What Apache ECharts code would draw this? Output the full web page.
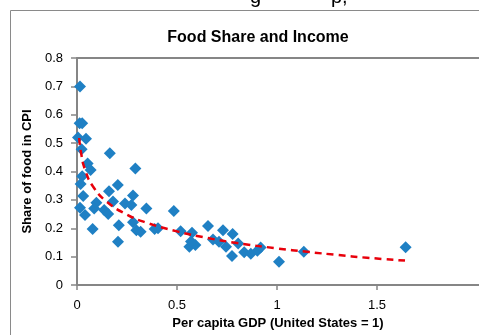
<!DOCTYPE html>
<html>
<head>
<meta charset="utf-8">
<script src="https://cdn.jsdelivr.net/npm/echarts@6/dist/echarts.min.js"></script>
<style>
  html, body { margin: 0; padding: 0; background: #fff; }
  #chart { width: 479px; height: 335px; }
</style>
</head>
<body>
<div id="chart"></div>
<script>
// 人均GDP（美国=1）
const gdpShare = [
  0.015, 0.013, 0.026, 0.005, 0.045, 0.023, 0.164, 0.053, 0.068, 0.292,
  0.026, 0.018, 0.204, 0.160, 0.031, 0.280, 0.097, 0.180, 0.240, 0.272,
  0.015, 0.086, 0.136, 0.347, 0.040, 0.156, 0.280, 0.209, 0.078, 0.297,
  0.318, 0.205, 0.388, 0.405, 0.484, 0.518, 0.575, 0.655, 0.730, 0.778,
  0.680, 0.710, 0.562, 0.592, 0.570, 0.745, 0.806, 0.775, 0.836, 0.869,
  0.902, 0.918, 1.010, 1.134, 1.643
];
// 食品在CPI中的份额
const foodShare = [
  0.700, 0.570, 0.570, 0.520, 0.515, 0.478, 0.464, 0.428, 0.405, 0.411,
  0.383, 0.356, 0.352, 0.330, 0.314, 0.315, 0.290, 0.294, 0.287, 0.282,
  0.272, 0.270, 0.264, 0.270, 0.247, 0.250, 0.221, 0.211, 0.197, 0.193,
  0.188, 0.152, 0.197, 0.200, 0.261, 0.189, 0.184, 0.208, 0.193, 0.180,
  0.160, 0.152, 0.135, 0.141, 0.153, 0.135, 0.146, 0.102, 0.115, 0.110,
  0.121, 0.132, 0.082, 0.117, 0.133
];
// 趋势线
const trendX = [0.011, 0.02, 0.04, 0.08, 0.15, 0.25, 0.35, 0.5, 0.65, 0.8, 1.0, 1.15, 1.3, 1.45, 1.64];
const trendY = [0.518, 0.467, 0.407, 0.347, 0.293, 0.248, 0.219, 0.189, 0.166, 0.148, 0.129, 0.117, 0.106, 0.096, 0.086];

const xTicks = [0, 0.5, 1, 1.5];

const chart = echarts.init(document.getElementById('chart'));

const option = {
  animation: false,
  title: {
    text: 'Food Share and Income',
    left: 253,
    textAlign: 'center',
    top: 25,
    textStyle: { fontFamily: 'Liberation Sans', fontSize: 16, fontWeight: 'bold', color: '#000' }
  },
  graphic: [
    // 外框
    { type: 'rect', shape: { x: 10.5, y: 10.5, width: 520, height: 400 },
      style: { fill: 'none', stroke: '#8a8a8a', lineWidth: 1 }, silent: true },
    // 上方被截断的正文
    { type: 'text', left: 250, top: -13, style: { text: 'g', fontSize: 20, fontFamily: 'Liberation Sans', fill: '#000' } },
    { type: 'text', left: 331, top: -13, style: { text: 'p,', fontSize: 20, fontFamily: 'Liberation Sans', fill: '#000' } }
  ],
  grid: { left: 77, top: 58, width: 404, height: 227 },
  xAxis: [{
    type: 'value',
    min: 0,
    max: 2.01,
    interval: 0.5,
    name: 'Per capita GDP (United States = 1)',
    nameLocation: 'middle',
    nameGap: 31,
    nameTextStyle: { fontFamily: 'Liberation Sans', fontSize: 13, fontWeight: 'bold', color: '#000' },
    axisLine: { lineStyle: { color: '#868686', width: 2 } },
    axisTick: { show: true, length: 5, customValues: xTicks, lineStyle: { color: '#868686', width: 1.5 } },
    axisLabel: { customValues: xTicks, margin: 14, fontFamily: 'Liberation Sans', fontSize: 13, color: '#000' },
    splitLine: { show: false }
  }, {
    type: 'value',
    position: 'top',
    min: 0,
    max: 2.01,
    axisLine: { show: true, lineStyle: { color: '#868686', width: 2 } },
    axisTick: { show: false },
    axisLabel: { show: false },
    splitLine: { show: false }
  }],
  yAxis: {
    type: 'value',
    min: 0,
    max: 0.8,
    interval: 0.1,
    name: 'Share of food in CPI',
    nameLocation: 'middle',
    nameGap: 38,
    nameTextStyle: { fontFamily: 'Liberation Sans', fontSize: 13, fontWeight: 'bold', color: '#000' },
    axisLine: { show: true, lineStyle: { color: '#868686', width: 2 } },
    axisTick: { show: true, length: 6, lineStyle: { color: '#868686', width: 1.5 } },
    axisLabel: { margin: 14, fontFamily: 'Liberation Sans', fontSize: 13, color: '#000' },
    splitLine: { show: false }
  },
  series: [{
    type: 'line',
    data: trendX.map((x, i) => [x, trendY[i]]),
    smooth: true,
    showSymbol: false,
    z: 3,
    lineStyle: { color: '#e8000b', width: 2.5, type: [7, 5] }
  }, {
    type: 'scatter',
    data: gdpShare.map((x, i) => [x, foodShare[i]]),
    symbol: 'diamond',
    symbolSize: 12,
    z: 2,
    itemStyle: { color: '#1f80c4', opacity: 1 }
  }]
};

chart.setOption(option);
</script>
</body>
</html>
